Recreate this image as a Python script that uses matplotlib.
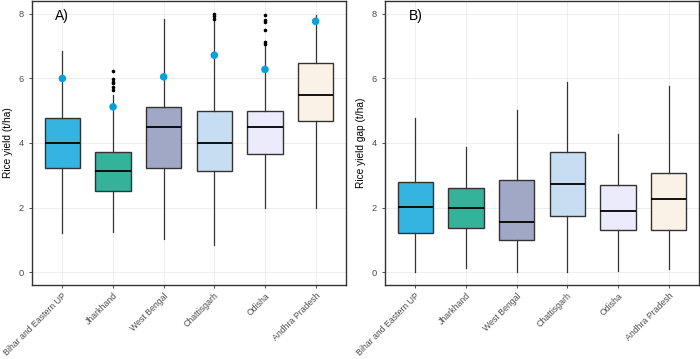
import matplotlib
matplotlib.use("Agg")
import matplotlib.pyplot as plt

plt.rcParams["font.family"] = ["Liberation Sans", "DejaVu Sans"]

states = ["Bihar and Eastern UP", "Jharkhand", "West Bengal", "Chattisgarh", "Odisha", "Andhra Pradesh"]
colors = ["#34b4e0", "#34b39a", "#a0a8c6", "#c7ddf1", "#ebebfb", "#fbf2e7"]

# Panel A: rice yield (t/ha)
yield_low = [1.21, 1.25, 1.03, 0.83, 1.99, 1.99]
yield_q1 = [3.24, 2.50, 3.24, 3.12, 3.66, 4.69]
yield_med = [3.99, 3.12, 4.49, 3.99, 4.49, 5.48]
yield_q3 = [4.78, 3.73, 5.13, 4.99, 4.99, 6.49]
yield_high = [6.86, 5.50, 7.85, 7.77, 7.03, 7.97]
yield_outliers = [[], [6.24, 5.97, 5.90, 5.85, 5.75, 5.65], [], [8.00, 7.92, 7.84], [7.97, 7.80, 7.75, 7.49, 7.13, 7.08], []]
yield_potential = [6.00, 5.12, 6.05, 6.72, 6.28, 7.77]

# Panel B: rice yield gap (t/ha)
gap_low = [0.00, 0.13, 0.01, 0.00, 0.04, 0.09]
gap_q1 = [1.22, 1.37, 0.98, 1.74, 1.30, 1.30]
gap_med = [2.02, 1.98, 1.55, 2.73, 1.89, 2.28]
gap_q3 = [2.80, 2.61, 2.84, 3.72, 2.70, 3.08]
gap_high = [4.79, 3.87, 5.03, 5.89, 4.28, 5.77]

W, H = 700, 359
fig = plt.figure(figsize=(7, 3.59), dpi=100)
ax1 = fig.add_axes([32 / W, (H - 285) / H, 314 / W, 284 / H])
ax2 = fig.add_axes([385 / W, (H - 285) / H, 314 / W, 284 / H])

edge = "#333333"


def draw(ax, low, q1, med, q3, high, outliers=None, points=None, ylabel="", tag=""):
    stats = []
    for i in range(len(states)):
        stats.append(dict(whislo=low[i], q1=q1[i], med=med[i], q3=q3[i], whishi=high[i],
                          fliers=outliers[i] if outliers else [], label=states[i]))
    bp = ax.bxp(stats, positions=range(1, 7), widths=0.7, patch_artist=True,
                showcaps=False, zorder=3,
                boxprops=dict(edgecolor=edge, linewidth=1.0),
                whiskerprops=dict(color=edge, linewidth=0.9),
                medianprops=dict(color="black", linewidth=1.3),
                flierprops=dict(marker="o", markersize=1.6, markerfacecolor="black",
                                markeredgecolor="black", linestyle="none"))
    for patch, c in zip(bp["boxes"], colors):
        patch.set_facecolor(c)
    if points is not None:
        ax.scatter(range(1, 7), points, s=30, color="#0aa0dc", zorder=5, edgecolors="none")
    ax.set_xlim(0.4, 6.6)
    ax.set_ylim(-0.4, 8.4)
    ax.set_yticks([0, 2, 4, 6, 8])
    ax.set_xticks(range(1, 7))
    ax.set_xticklabels(states, rotation=45, ha="right", rotation_mode="anchor",
                       fontsize=6.3, color="#4d4d4d")
    ax.tick_params(axis="y", labelsize=6.7, labelcolor="#4d4d4d", color="#333333", length=2.5, width=0.6)
    ax.tick_params(axis="x", color="#333333", length=2.5, width=0.6, pad=2)
    ax.grid(True, color="#ebebeb", linewidth=0.6, zorder=0)
    ax.set_axisbelow(True)
    for s in ax.spines.values():
        s.set_color("#333333")
        s.set_linewidth(1.0)
    ax.set_ylabel(ylabel, fontsize=7.3, labelpad=4)
    ax.text(1, 7.92, tag, ha="center", va="center", fontsize=10)


draw(ax1, yield_low, yield_q1, yield_med, yield_q3, yield_high, yield_outliers, yield_potential,
     "Rice yield (t/ha)", "A)")
draw(ax2, gap_low, gap_q1, gap_med, gap_q3, gap_high, None, None,
     "Rice yield gap (t/ha)", "B)")

fig.savefig("out.png", dpi=100)
